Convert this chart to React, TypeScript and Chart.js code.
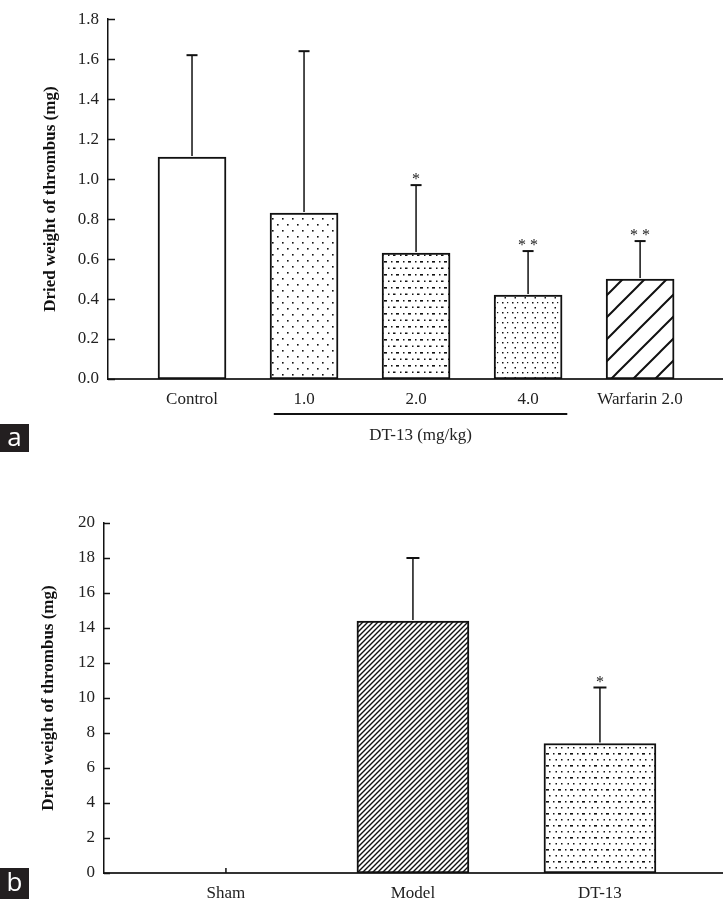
import React, { useEffect, useRef } from 'react';
import { Chart, registerables } from 'chart.js';

Chart.register(...registerables);

// ---------- Panel a data ----------
const categoriesA = ['Control', '1.0', '2.0', '4.0', 'Warfarin 2.0'];
const meansA = [1.11, 0.83, 0.63, 0.42, 0.5];
const sdA = [0.51, 0.81, 0.34, 0.22, 0.19];
const marksA = ['', '', '*', '**', '**'];
const yTicksA = [0, 0.2, 0.4, 0.6, 0.8, 1.0, 1.2, 1.4, 1.6, 1.8];
const groupLabelA = 'DT-13 (mg/kg)';
const groupRangeA = [1, 3];

// ---------- Panel b data ----------
const categoriesB = ['Sham', 'Model', 'DT-13'];
const meansB = [0, 14.4, 7.4];
const sdB = [0, 3.6, 3.2];
const marksB = ['', '', '*'];
const yTicksB = [0, 2, 4, 6, 8, 10, 12, 14, 16, 18, 20];

const yTitle = 'Dried weight of thrombus (mg)';
const SERIF = "'Liberation Serif', 'Times New Roman', serif";

function makePattern(w: number, h: number, draw: (g: CanvasRenderingContext2D) => void) {
  const c = document.createElement('canvas');
  c.width = w;
  c.height = h;
  const g = c.getContext('2d')!;
  g.fillStyle = '#ffffff';
  g.fillRect(0, 0, w, h);
  g.fillStyle = '#111';
  g.strokeStyle = '#111';
  draw(g);
  return g.createPattern(c, 'repeat') as CanvasPattern;
}

function hatch(size: number, lw: number) {
  return makePattern(size, size, (g) => {
    g.lineWidth = lw;
    g.beginPath();
    g.moveTo(0, size);
    g.lineTo(size, 0);
    g.moveTo(-size / 2, size / 2);
    g.lineTo(size / 2, -size / 2);
    g.moveTo(size / 2, size * 1.5);
    g.lineTo(size * 1.5, size / 2);
    g.stroke();
  });
}

function dotsFine() {
  return makePattern(10, 12, (g) => {
    g.fillRect(2, 2, 1.6, 1.6);
    g.fillRect(7, 8, 1.6, 1.6);
  });
}

function dotsMixed() {
  return makePattern(12, 13, (g) => {
    g.fillRect(0, 1, 3, 1.6);
    g.fillRect(7, 1, 1.5, 1.5);
    g.fillRect(4, 7.5, 1.5, 1.5);
    g.fillRect(9, 7.5, 2.5, 1.5);
  });
}

function dotsSmall() {
  return makePattern(10, 10, (g) => {
    g.fillRect(2, 2, 1.5, 1.5);
    g.fillRect(7, 2, 1.2, 1.2);
    g.fillRect(4.5, 7, 1.5, 1.5);
  });
}

function dotsB() {
  return makePattern(12, 12, (g) => {
    g.fillRect(1, 1, 1.5, 1.5);
    g.fillRect(6, 1, 3, 1.6);
    g.fillRect(3.5, 7, 1.5, 1.5);
    g.fillRect(9, 7, 1.5, 1.5);
  });
}

type Cfg = {
  means: number[];
  sds: number[];
  marks: string[];
  capW: number;
  yTicks: number[];
  tickLen: number;
  catTicks?: number[];
  bracket?: { from: number; to: number; label: string; lineDy: number; textDy: number };
};

function overlayPlugin(cfg: Cfg) {
  return {
    id: 'overlay',
    afterDatasetsDraw(chart: any) {
      const ctx = chart.ctx as CanvasRenderingContext2D;
      const xs = chart.scales.x;
      const ys = chart.scales.y;
      const area = chart.chartArea;
      ctx.save();
      ctx.strokeStyle = '#111';
      ctx.lineWidth = 1.5;
      cfg.yTicks.forEach((v) => {
        const y = Math.round(ys.getPixelForValue(v)) + 0.5;
        ctx.beginPath();
        ctx.moveTo(area.left, y);
        ctx.lineTo(area.left + cfg.tickLen, y);
        ctx.stroke();
      });
      (cfg.catTicks || []).forEach((v) => {
        const x = xs.getPixelForValue(v);
        ctx.beginPath();
        ctx.moveTo(x, area.bottom);
        ctx.lineTo(x, area.bottom - 5);
        ctx.stroke();
      });
      const meta = chart.getDatasetMeta(0);
      meta.data.forEach((el: any, i: number) => {
        const sd = cfg.sds[i];
        const top = ys.getPixelForValue(cfg.means[i] + sd);
        if (sd > 0) {
          ctx.strokeStyle = '#111';
          ctx.lineWidth = 1.5;
          ctx.beginPath();
          ctx.moveTo(el.x, el.y - 1);
          ctx.lineTo(el.x, top);
          ctx.stroke();
          ctx.lineWidth = 2;
          ctx.beginPath();
          ctx.moveTo(el.x - cfg.capW / 2, top);
          ctx.lineTo(el.x + cfg.capW / 2, top);
          ctx.stroke();
        }
        if (cfg.marks[i]) {
          ctx.fillStyle = '#222';
          ctx.font = `16px ${SERIF}`;
          ctx.textAlign = 'center';
          ctx.textBaseline = 'alphabetic';
          ctx.fillText(cfg.marks[i].split('').join(' '), el.x, top - 1);
        }
      });
      if (cfg.bracket) {
        const b = cfg.bracket;
        const x1 = xs.getPixelForValue(b.from);
        const x2 = xs.getPixelForValue(b.to);
        const yl = area.bottom + b.lineDy;
        ctx.strokeStyle = '#111';
        ctx.lineWidth = 2;
        ctx.beginPath();
        ctx.moveTo(x1, yl);
        ctx.lineTo(x2, yl);
        ctx.stroke();
        ctx.fillStyle = '#222';
        ctx.font = `17px ${SERIF}`;
        ctx.textAlign = 'center';
        ctx.textBaseline = 'middle';
        ctx.fillText(b.label, (x1 + x2) / 2, area.bottom + b.textDy);
      }
      ctx.restore();
    },
  };
}

function buildConfig(opts: {
  labels: string[];
  means: number[];
  colors: (string | CanvasPattern)[];
  barW: number;
  xMin: number;
  xMax: number;
  yMax: number;
  yTicks: number[];
  yFmt: (v: number) => string;
  yWidth: number;
  xHeight: number;
  padTop: number;
  titlePad: number;
  plugin: any;
}) {
  return {
    type: 'bar',
    data: {
      datasets: [
        {
          data: opts.means.map((v, i) => ({ x: i, y: v })),
          backgroundColor: opts.colors,
          borderColor: '#111',
          borderWidth: 2,
          borderSkipped: false,
          barThickness: opts.barW,
        },
      ],
    },
    options: {
      responsive: false,
      animation: false,
      layout: { padding: { top: opts.padTop, left: 0, right: 0, bottom: 0 } },
      plugins: { legend: { display: false }, tooltip: { enabled: false } },
      scales: {
        x: {
          type: 'linear',
          offset: false,
          min: opts.xMin,
          max: opts.xMax,
          grid: { display: false, drawTicks: false, offset: false },
          border: { display: true, color: '#333', width: 2 },
          afterBuildTicks: (s: any) => {
            s.ticks = opts.labels.map((_, i) => ({ value: i }));
          },
          afterFit: (s: any) => {
            s.height = opts.xHeight;
          },
          ticks: {
            autoSkip: false,
            maxRotation: 0,
            padding: 10,
            color: '#222',
            font: { family: SERIF, size: 17 },
            callback: (v: any) => opts.labels[Math.round(Number(v))] ?? '',
          },
        },
        y: {
          min: 0,
          max: opts.yMax,
          grid: { display: false, drawTicks: false },
          border: { display: true, color: '#111', width: 1.5 },
          afterBuildTicks: (s: any) => {
            s.ticks = opts.yTicks.map((v) => ({ value: v }));
          },
          afterFit: (s: any) => {
            s.width = opts.yWidth;
          },
          ticks: {
            padding: 9,
            color: '#222',
            font: { family: SERIF, size: 17 },
            callback: (v: any) => opts.yFmt(Number(v)),
          },
          title: {
            display: true,
            text: yTitle,
            color: '#111',
            font: { family: SERIF, size: 17, weight: 'bold' },
            padding: { top: opts.titlePad, bottom: 0 },
          },
        },
      },
    },
    plugins: [opts.plugin],
  } as any;
}

function PanelA() {
  const ref = useRef<HTMLCanvasElement>(null);
  useEffect(() => {
    const colors = ['#ffffff', dotsFine(), dotsMixed(), dotsSmall(), hatch(22, 2)];
    const chart = new Chart(
      ref.current!,
      buildConfig({
        labels: categoriesA,
        means: meansA,
        colors,
        barW: 68,
        xMin: -0.75,
        xMax: 4.74,
        yMax: 1.8,
        yTicks: yTicksA,
        yFmt: (v) => v.toFixed(1),
        yWidth: 108,
        xHeight: 470 - 379,
        padTop: 10,
        titlePad: 40,
        plugin: overlayPlugin({
          means: meansA,
          sds: sdA,
          marks: marksA,
          capW: 11,
          yTicks: yTicksA,
          tickLen: 7,
          bracket: {
            from: groupRangeA[0] - 0.27,
            to: groupRangeA[1] + 0.35,
            label: groupLabelA,
            lineDy: 35,
            textDy: 57,
          },
        }),
      })
    );
    return () => chart.destroy();
  }, []);
  return <canvas ref={ref} width={723} height={470} style={{ position: 'absolute', left: 0, top: 0 }} />;
}

function PanelB() {
  const ref = useRef<HTMLCanvasElement>(null);
  useEffect(() => {
    const colors = ['#ffffff', hatch(5, 1.4), dotsB()];
    const chart = new Chart(
      ref.current!,
      buildConfig({
        labels: categoriesB,
        means: meansB,
        colors,
        barW: 112,
        xMin: -0.652,
        xMax: 2.658,
        yMax: 20,
        yTicks: yTicksB,
        yFmt: (v) => String(Math.round(v)),
        yWidth: 104,
        xHeight: 399 - 373,
        padTop: 23,
        titlePad: 38,
        plugin: overlayPlugin({
          means: meansB,
          sds: sdB,
          marks: marksB,
          capW: 13,
          yTicks: yTicksB,
          tickLen: 6,
          catTicks: [0],
        }),
      })
    );
    return () => chart.destroy();
  }, []);
  return <canvas ref={ref} width={723} height={399} style={{ position: 'absolute', left: 0, top: 500 }} />;
}

function Tag({ letter, top, height }: { letter: string; top: number; height: number }) {
  return (
    <div
      style={{
        position: 'absolute',
        left: 0,
        top,
        width: 29,
        height,
        background: '#231f20',
        color: '#fff',
        fontFamily: "'Open Sans', 'Liberation Sans', sans-serif",
        fontSize: 26,
        lineHeight: `${height - 4}px`,
        textAlign: 'center',
      }}
    >
      {letter}
    </div>
  );
}

export default function App() {
  return (
    <div
      style={{
        position: 'absolute',
        left: 0,
        top: 0,
        width: 723,
        height: 899,
        background: '#fff',
        overflow: 'hidden',
      }}
    >
      <PanelA />
      <PanelB />
      <Tag letter="a" top={424} height={28} />
      <Tag letter="b" top={868} height={31} />
    </div>
  );
}
